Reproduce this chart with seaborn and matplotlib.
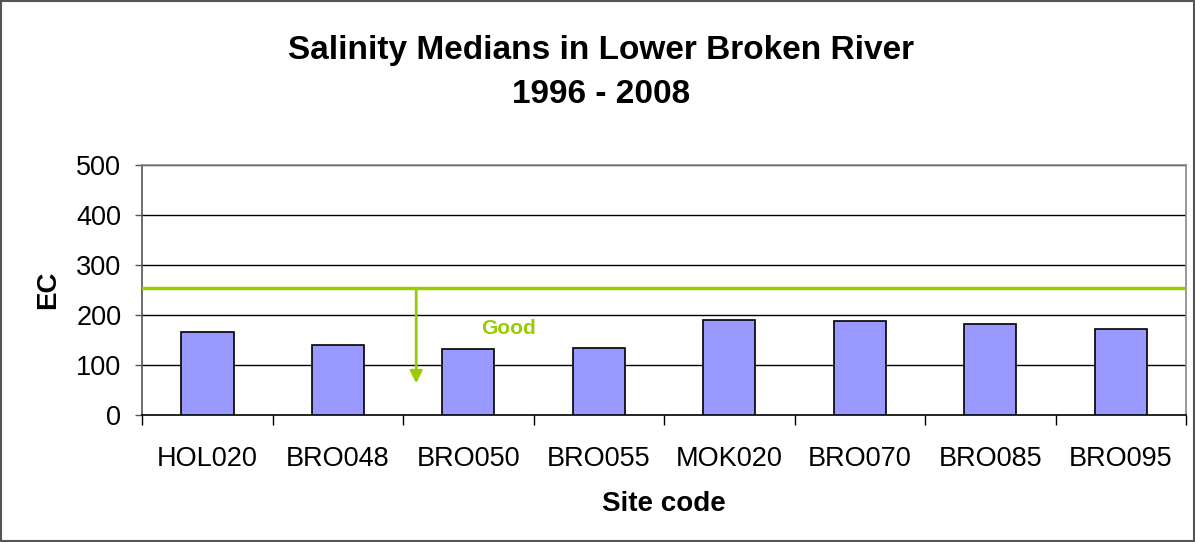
import matplotlib
matplotlib.use("Agg")
import matplotlib.pyplot as plt
import seaborn as sns
import pandas as pd
import numpy as np
from matplotlib.patches import Rectangle

sites = ["HOL020", "BRO048", "BRO050", "BRO055", "MOK020", "BRO070", "BRO085", "BRO095"]
ec_median = [167, 141, 133, 135, 191, 189, 183, 172]
guideline = 254
y_ticks = [0, 100, 200, 300, 400, 500]

sns.set_theme(style="white")
plt.rcParams['font.family'] = ['Liberation Sans', 'DejaVu Sans']
plt.rcParams['text.color'] = 'black'
plt.rcParams['axes.labelcolor'] = 'black'
plt.rcParams['xtick.color'] = 'black'
plt.rcParams['ytick.color'] = 'black'

df = pd.DataFrame({"site": sites, "ec": ec_median})

fig = plt.figure(figsize=(11.95, 5.42), dpi=100)
ax = fig.add_axes([0.119, 0.234, 0.8735, 0.462])

sns.barplot(data=df, x="site", y="ec", color="#9999FF", saturation=1,
            edgecolor="black", linewidth=1.2, width=0.4, ax=ax, zorder=3)

ax.set_ylim(0, 500)
ax.set_xlim(-0.5, len(sites) - 0.5)
ax.set_yticks(y_ticks)
ax.set_yticklabels([str(v) for v in y_ticks], fontsize=19.5, color="black")
ax.set_xticks(range(len(sites)))
ax.set_xticklabels(sites, fontsize=19.5, color="black")
ax.tick_params(axis="x", length=0, pad=22)
ax.tick_params(axis="y", length=5, width=1, color="#555555", left=True, pad=10)
# category boundary ticks
ax.set_xticks(np.arange(-0.5, len(sites), 1.0), minor=True)
ax.tick_params(axis="x", which="minor", length=7, width=1, color="black", bottom=True, direction="out")

for v in y_ticks[1:]:
    ax.axhline(v, color="black", linewidth=1, zorder=1)

for s in ["left", "bottom", "right", "top"]:
    ax.spines[s].set_visible(True)
    ax.spines[s].set_linewidth(1.2)
ax.spines["left"].set_color("#555555")
ax.spines["bottom"].set_color("black")
ax.spines["right"].set_color("#888888")
ax.spines["top"].set_color("#888888")

green = "#99CC00"
ax.axhline(guideline, color=green, linewidth=2.5, zorder=4)
ax.annotate("", xy=(1.6, 58), xytext=(1.6, guideline),
            arrowprops=dict(arrowstyle="-|>", color=green, lw=2, mutation_scale=18), zorder=4)
ax.text(2.31, 174, "Good", color=green, fontsize=15, fontweight="bold",
        ha="center", va="center", zorder=5)

ax.set_xlabel("Site code", fontsize=20, fontweight="bold", labelpad=14, color="black")
ax.set_ylabel("EC", fontsize=20, fontweight="bold", labelpad=11, color="black")

fig.text(0.503, 0.906, "Salinity Medians in Lower Broken River", ha="center", va="center",
         fontsize=24, fontweight="bold", color="black")
fig.text(0.503, 0.825, "1996 - 2008", ha="center", va="center",
         fontsize=24, fontweight="bold", color="black")

fig.patches.append(Rectangle((0.001, 0.001), 0.998, 0.997, transform=fig.transFigure,
                             fill=False, edgecolor="#555555", linewidth=1.5))

fig.savefig("out.png", dpi=100, facecolor="white")
